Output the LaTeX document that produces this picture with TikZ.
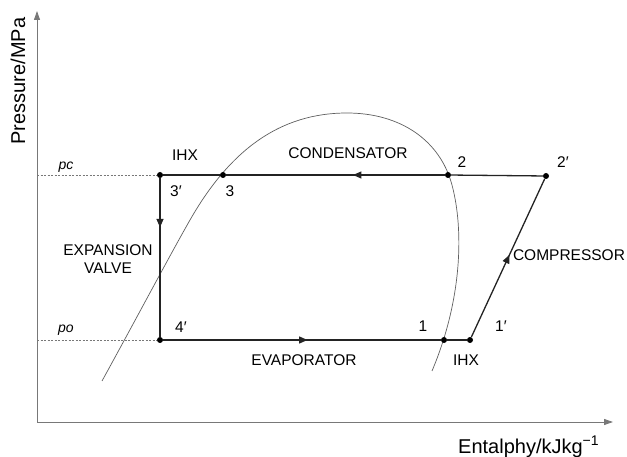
\documentclass[tikz,border=0pt]{standalone}
\usepackage{fontspec}
\setmainfont{Liberation Sans}
\usetikzlibrary{arrows.meta,decorations.markings}
\definecolor{axisgray}{RGB}{120,120,120}
\definecolor{domegray}{RGB}{95,95,95}
\definecolor{cycledark}{RGB}{35,35,35}

\begin{document}
\begin{tikzpicture}[x=1pt, y=-1pt,
  lbl/.style={font=\fontsize{15.5}{18}\selectfont, inner sep=0pt},
  axlbl/.style={font=\fontsize{20}{24}\selectfont, inner sep=0pt},
  statept/.style={circle, fill=black, inner sep=0pt, minimum size=6pt},
  cycleline/.style={line width=1.3pt, draw=cycledark},
  flowmid/.style={postaction={decorate}, decoration={markings,
    mark=at position #1 with {\arrow{Triangle[length=8.5pt,width=7pt]}}}},
  axisline/.style={draw=axisgray, line width=0.9pt, -{Triangle[length=9pt,width=6pt]}},
  guide/.style={draw=axisgray, line width=0.8pt, dash pattern=on 2pt off 1.5pt}]
\useasboundingbox (0,0) rectangle (627,457);

% axes
\coordinate (orig) at (37,422);
\coordinate (ytip) at (37,11);
\coordinate (xtip) at (613,422);
\draw[axisline] (orig) -- (ytip);
\draw[axisline] (orig) -- (xtip);
\node[axlbl, rotate=90] (ylab) at (18,81) {Pressure/MPa};
\node[axlbl, anchor=base west] (xlab) at (458,453) {Entalphy/kJkg\textsuperscript{\char"2212 1}};

% saturation dome
\draw[domegray, line width=0.7pt] (102,381) .. controls (135,321) and (170,255) .. (190,220)
  .. controls (230,150) and (280,113) .. (347,113)
  .. controls (400,113) and (440,140) .. (452,185)
  .. controls (464,230) and (462,300) .. (432,371);

% state points
\node[statept] (s3p) at (160,175) {};
\node[statept] (s3)  at (223,175) {};
\node[statept] (s2)  at (448,175) {};
\node[statept] (s2p) at (546,176) {};
\node[statept] (s4p) at (160,340) {};
\node[statept] (s1)  at (444,340) {};
\node[statept] (s1p) at (470,340) {};

% pressure levels
\coordinate (pcax) at (37,175);
\coordinate (poax) at (37,340);
\draw[guide] (pcax) -- (s3p);
\draw[guide] (poax) -- (s4p);
\node[lbl, font=\fontsize{14}{16}\selectfont\itshape] (pclab) at (66,167) {pc};
\node[lbl, font=\fontsize{14}{16}\selectfont\itshape] (polab) at (66,330) {po};

% cycle
\draw[cycleline] (s2p) -- (s2);
\draw[cycleline, flowmid=0.42] (s2) -- (s3);
\draw[cycleline] (s3) -- (s3p);
\draw[cycleline, flowmid=0.31] (s3p) -- (s4p);
\draw[cycleline, flowmid=0.52] (s4p) -- (s1);
\draw[cycleline] (s1) -- (s1p);
\draw[cycleline, flowmid=0.52] (s1p) -- (s2p);

% labels
\node[lbl] (l3p) at (176,191) {3′};
\node[lbl] (l3)  at (230,191) {3};
\node[lbl] (l2)  at (462,162) {2};
\node[lbl] (l2p) at (563,162) {2′};
\node[lbl] (l4p) at (181,327) {4′};
\node[lbl] (l1)  at (423,326) {1};
\node[lbl] (l1p) at (501,326) {1′};
\node[lbl] (ihxtop) at (185,155) {IHX};
\node[lbl] (ihxbot) at (466,360) {IHX};
\node[lbl] (cond) at (348,153) {CONDENSATOR};
\node[lbl] (evap) at (304,360) {EVAPORATOR};
\node[lbl] (comp) at (569,255) {COMPRESSOR};
\node[lbl, align=center, font=\fontsize{15.5}{18}\selectfont] (valve) at (108,259) {EXPANSION\\VALVE};
\end{tikzpicture}
\end{document}
